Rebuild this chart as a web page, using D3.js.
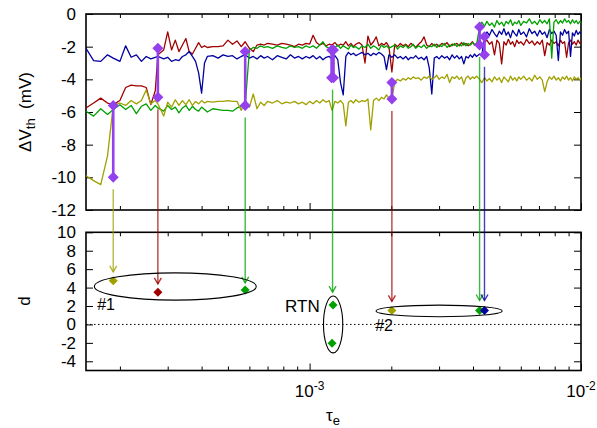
<!DOCTYPE html>
<html>
<head>
<meta charset="utf-8">
<script src="https://cdnjs.cloudflare.com/ajax/libs/d3/7.8.5/d3.min.js"></script>
<style>
body { margin: 0; background: #fff; }
text { font-family: "Liberation Sans", Arial, Helvetica, sans-serif; }
</style>
</head>
<body>
<div id="chart"></div>
<script>
// tau_e grid, in units of 1e-4 s
const tauE4 = [
  1.5,1.6,1.7,1.8,1.89,2.0,2.1,2.2,2.3,2.4,2.5,2.6,2.7,2.76,2.9,3.0,3.1,3.2,3.3,3.4,3.5,3.6,3.7,3.8,3.9,4.0,4.1,4.2,4.4,4.6,4.8,5.0,5.2,5.4,5.6,5.79,6.0,6.2,6.4,6.6,6.8,7.0,7.3,7.6,7.9,8.2,8.5,8.8,9.1,9.4,9.7,
  10.0,10.3,10.6,10.9,11.2,11.5,11.8,12.1,12.4,12.7,13.0,13.3,13.6,13.9,14.2,14.5,14.8,15.2,15.6,16.0,16.4,16.8,17.2,17.6,18.0,18.4,18.8,19.2,19.6,20.1,20.6,21.1,21.6,22.1,22.6,23.1,23.6,24.1,24.6,25.2,25.8,26.4,27.0,27.6,28.2,28.8,29.4,30.0,30.7,31.4,32.1,32.8,33.5,34.2,34.9,35.6,36.3,37.0,37.7,38.4,39.1,39.8,40.5,41.2,
  42.3,43.1,44.1,45,46,47,48,49,50,51,52,53,54,55,56,57,58,59,60,61.5,63,64.5,66,67.5,69,70.5,72,73.5,75,76.5,78,79.5,81,82.5,84,85.5,87,88.5,90,91.5,93,94.5,96,97.5,99,100
];
const tau = tauE4.map(v => v * 1e-4);

// delta Vth (mV) of the four devices
const red = [
  -5.75,-5.45,-5.15,-5.45,-5.55,-5.3,-4.5,-4.35,-4.4,-4.4,-4.5,-5.55,-4.7,-2.5,-2.2,-1.1,-2.2,-1.6,-2.3,-1.9,-1.5,-2.3,-2.45,-2.1,-1.75,-2.05,-1.95,-2.05,-2.0,-2.0,-1.95,-1.6,-1.85,-1.65,-2.0,-1.7,-2.1,-2.3,-1.9,-1.85,-1.9,-1.8,-1.85,-1.9,-1.8,-1.85,-1.9,-2.0,-1.85,-1.9,-1.8,
  -1.85,-1.3,-1.75,-1.9,-1.8,-1.95,-1.85,-1.9,-1.75,-1.95,-1.85,-1.9,-1.7,-1.95,-1.8,-2.0,-1.85,-1.75,-1.9,-3.0,-1.35,-1.9,-1.7,-1.4,-1.95,-1.8,-1.9,-1.75,-2.0,-3.55,-1.85,-2.0,-1.8,-1.95,-1.85,-2.0,-1.8,-1.9,-2.05,-1.85,-1.7,-1.4,-1.9,-2.0,-1.8,-1.95,-1.85,-2.0,-1.8,-1.9,-1.75,-2.0,-1.85,-1.9,-1.8,-1.95,-1.75,-1.9,-1.8,-1.95,-1.85,-1.7,-1.9,-1.8,
  -1.6,-1.95,-1.75,-1.6,-1.85,-1.7,-2.5,-1.6,-1.8,-3.05,-1.7,-1.9,-1.55,-1.85,-1.7,-2.0,-1.6,-1.8,-1.7,-1.9,-1.55,-1.8,-1.65,-1.9,-1.7,-1.85,-1.6,-2.55,-1.75,-1.9,-1.6,-1.8,-1.7,-1.95,-1.6,-1.8,-1.7,-2.65,-1.75,-1.6,-1.85,-1.7,-1.9,-1.6,-1.8,-1.75
];
const blue = [
  -2.1,-2.85,-2.9,-2.5,-2.7,-2.9,-1.95,-2.65,-2.5,-2.9,-2.6,-2.75,-2.65,-2.6,-2.75,-2.65,-2.9,-2.8,-2.85,-2.6,-2.5,-2.3,-2.6,-2.9,-3.6,-4.85,-3.0,-2.6,-2.55,-2.7,-2.5,-2.6,-2.55,-2.75,-2.6,-2.5,-2.7,-2.6,-2.75,-2.55,-2.7,-2.6,-2.8,-2.55,-2.65,-2.75,-2.5,-2.7,-2.6,-2.75,-2.6,
  -2.7,-2.55,-2.75,-2.6,-2.8,-2.65,-2.6,-2.75,-2.55,-2.8,-4.2,-4.95,-2.6,-2.35,-2.5,-2.4,-2.55,-2.45,-2.35,-2.5,-2.4,-2.55,-2.4,-2.5,-2.35,-2.45,-2.6,-3.4,-2.5,-2.65,-2.5,-2.7,-2.6,-2.75,-2.6,-2.8,-2.65,-2.7,-2.55,-2.75,-2.65,-2.8,-2.6,-3.3,-4.9,-2.7,-2.6,-2.75,-2.55,-2.7,-2.6,-2.8,-2.5,-2.7,-2.55,-2.75,-2.6,-3.05,-2.6,-2.7,-2.5,-2.65,-2.45,-2.6,
  -2.45,-2.55,-1.4,-1.1,-1.3,-0.95,-1.2,-1.4,-1.05,-1.25,-0.9,-1.3,-1.1,-1.45,-1.0,-1.2,-1.35,-0.95,-1.25,-1.1,-1.4,-0.9,-1.2,-1.05,-1.35,-1.0,-1.25,-1.1,-1.45,-0.95,-1.2,-1.05,-1.3,-2.85,-1.1,-1.3,-0.95,-1.2,-1.05,-2.6,-1.15,-1.35,-1.0,-1.25,-1.1,-1.2
];
const green = [
  -5.95,-6.25,-5.8,-6.15,-5.85,-5.55,-5.85,-5.6,-6.1,-5.65,-5.5,-5.9,-5.6,-5.75,-5.95,-5.6,-5.85,-5.7,-6.05,-5.75,-5.6,-5.9,-5.65,-5.85,-5.95,-5.7,-5.85,-6.0,-5.8,-5.85,-5.9,-5.9,-5.95,-5.75,-5.65,-5.6,-2.2,-2.05,-2.1,-1.95,-2.05,-2.0,-2.1,-1.95,-2.05,-2.1,-1.95,-2.05,-2.0,-2.1,-1.95,
  -2.05,-1.95,-2.1,-1.9,-1.7,-2.0,-2.1,-2.2,-2.05,-1.9,-2.1,-1.95,-2.05,-2.15,-1.9,-2.05,-2.0,-2.15,-1.95,-2.05,-1.85,-2.1,-1.95,-2.05,-2.2,-1.9,-2.05,-1.95,-2.1,-2.0,-1.9,-2.15,-1.95,-2.05,-1.9,-2.1,-2.0,-1.85,-2.1,-1.95,-2.05,-1.9,-2.1,-1.95,-2.0,-1.85,-2.05,-1.9,-2.0,-1.8,-2.05,-1.9,-1.95,-1.8,-2.0,-1.85,-1.95,-1.75,-1.95,-1.8,-1.9,-1.75,-1.85,-1.9,
  -0.8,-0.5,-0.75,-0.45,-0.7,-0.55,-0.8,-0.4,-0.65,-0.5,-0.75,-0.45,-0.6,-0.35,-0.7,-0.5,-0.6,-0.4,-0.7,-0.45,-0.55,-0.3,-0.6,-0.45,-0.65,-0.35,-0.55,-0.4,-0.6,-0.3,-2.7,-0.5,-0.35,-0.6,-0.4,-0.55,-0.3,-0.5,-0.4,-0.6,-0.35,-0.55,-0.4,-0.6,-0.45,-0.5
];
const olive = [
  -9.9,-10.2,-10.45,-8.7,-5.6,-5.45,-5.6,-5.3,-5.5,-5.3,-4.65,-5.5,-5.3,-5.5,-6.25,-5.4,-5.7,-5.25,-5.6,-5.3,-5.55,-5.25,-5.6,-5.35,-5.5,-5.3,-5.45,-5.35,-5.4,-5.35,-5.35,-5.3,-5.35,-5.35,-5.9,-5.3,-5.7,-4.9,-5.8,-5.4,-5.6,-5.35,-5.45,-5.3,-5.5,-5.4,-5.45,-5.35,-5.5,-5.4,-5.55,
  -5.35,-5.5,-5.3,-5.45,-5.25,-5.4,-5.3,-5.9,-5.35,-5.45,-5.3,-5.5,-6.85,-5.4,-5.3,-5.45,-5.25,-5.4,-5.3,-5.35,-5.2,-7.1,-5.3,-5.15,-5.3,-5.1,-5.2,-4.95,-5.15,-5.2,-4.15,-4.0,-4.1,-3.95,-4.05,-3.9,-4.0,-3.85,-3.95,-3.9,-4.05,-3.85,-3.95,-3.8,-4.0,-3.9,-3.75,-4.0,-3.85,-3.95,-3.7,-4.2,-3.85,-3.95,-3.8,-4.0,-3.85,-4.3,-3.9,-3.8,-4.0,-3.85,-3.95,-3.8,
  -4.0,-4.2,-3.9,-4.1,-3.95,-4.15,-3.85,-4.05,-3.9,-4.2,-3.85,-4.0,-4.15,-3.8,-4.05,-3.9,-4.1,-3.85,-4.0,-3.8,-4.05,-3.9,-4.1,-3.75,-4.0,-3.85,-4.05,-4.75,-4.15,-3.85,-4.0,-3.8,-4.05,-3.9,-4.1,-3.85,-4.0,-3.8,-4.05,-3.9,-4.1,-3.85,-4.0,-3.9,-4.05,-3.9
];

// purple jump markers (upper / lower level, mV)
const jumpTau  = [1.89e-4, 2.76e-4, 5.79e-4, 1.205e-3, 1.225e-3, 2.01e-3, 4.23e-3, 4.41e-3];
const jumpHigh = [-5.6, -2.1, -2.3, -2.2, -2.2, -4.2, -0.8, -1.4];
const jumpLow  = [-10.0, -5.1, -5.6, -3.9, -3.9, -5.2, -1.9, -2.5];

// arrows from the jumps down to the d panel
const arrowTau   = [1.89e-4, 2.76e-4, 5.79e-4, 1.215e-3, 2.01e-3, 4.23e-3, 4.41e-3];
const arrowFrom  = [-10.0, -5.1, -5.6, -3.9, -5.2, -1.9, -2.5];
const arrowTipD  = [5.7, 4.4, 4.5, 3.5, 2.5, 2.6, 2.6];
const arrowColor = ["olive", "red", "green", "green", "red", "green", "blue"];

// d values
const markTau   = [1.89e-4, 2.76e-4, 5.79e-4, 1.22e-3, 1.21e-3, 2.01e-3, 4.23e-3, 4.41e-3];
const markD     = [4.75, 3.5, 3.75, 2.1, -2.05, 1.5, 1.5, 1.5];
const markColor = ["olive", "red", "green", "green", "green", "olive", "green", "blue"];

// groups circled in the d panel
const groupName = ["#1", "RTN", "#2"];
const groupTau0 = [1.61e-4, 1.125e-3, 1.758e-3];
const groupTau1 = [6.36e-4, 1.325e-3, 5.12e-3];
const groupD0   = [2.64, -3.09, 0.83];
const groupD1   = [5.6, 3.08, 2.1];
const labelTau  = [1.65e-4, 1.09e-3, 1.745e-3];
const labelD    = [1.55, 1.39, -0.7];

const topTicks = [0, -2, -4, -6, -8, -10, -12];
const botTicks = [10, 8, 6, 4, 2, 0, -2, -4];
const xMajor = [1e-3, 1e-2];
const xMinor = [2e-4, 3e-4, 4e-4, 5e-4, 6e-4, 7e-4, 8e-4, 9e-4, 2e-3, 3e-3, 4e-3, 5e-3, 6e-3, 7e-3, 8e-3, 9e-3];

const colors = { red: "#a00000", blue: "#0000a0", green: "#00a000", olive: "#a0a000" };
const purple = "#9440ed";

const w = 597, h = 428;
const svg = d3.select("#chart").append("svg")
    .attr("width", w)
    .attr("height", h);

const x = d3.scaleLog().domain([1.5e-4, 1e-2]).range([86, 581]);
const yTop = d3.scaleLinear().domain([-12, 0]).range([210, 14]);
const yBot = d3.scaleLinear().domain([-5, 10]).range([370.5, 232.3]);

svg.append("clipPath").attr("id", "clipTop")
  .append("rect")
    .attr("x", 86).attr("y", 14)
    .attr("width", 495).attr("height", 196);

function panel(y, ticks, labelX) {
    const [b, t] = y.range();
    const g = svg.append("g");
    const axes = [
        [d3.axisBottom(x).tickValues(xMinor).tickSize(-4), b],
        [d3.axisBottom(x).tickValues(xMajor).tickSize(-7), b],
        [d3.axisTop(x).tickValues(xMinor).tickSize(-4), t],
        [d3.axisTop(x).tickValues(xMajor).tickSize(-7), t]
    ];
    axes.forEach(function (a) {
        g.append("g").attr("transform", "translate(0," + a[1] + ")")
            .call(a[0].tickFormat(""))
            .call(s => s.select(".domain").remove());
    });
    g.append("g").attr("transform", "translate(86,0)")
        .call(d3.axisLeft(y).tickValues(ticks).tickSize(-7).tickPadding(10).tickFormat(d => String(d)))
        .call(s => s.select(".domain").remove())
        .attr("font-size", 17)
        .attr("font-family", null);
    g.append("g").attr("transform", "translate(581,0)")
        .call(d3.axisRight(y).tickValues(ticks).tickSize(-7).tickFormat(""))
        .call(s => s.select(".domain").remove());
    g.selectAll(".tick line").attr("stroke", "#000").attr("stroke-width", 1);
    g.selectAll(".tick text").attr("fill", "#000");
    g.append("rect")
        .attr("x", 86).attr("y", t)
        .attr("width", 495).attr("height", b - t)
        .attr("fill", "none").attr("stroke", "#000").attr("stroke-width", 1.6);

    if (labelX) {
        xMajor.forEach(function (v) {
            const txt = g.append("text")
                .attr("x", x(v)).attr("y", 396.5)
                .attr("text-anchor", "middle")
                .attr("font-size", 17);
            txt.append("tspan").text("10");
            txt.append("tspan").attr("dy", -7).attr("font-size", 12).text("-" + Math.round(-Math.log10(v)));
        });
    }
}

panel(yTop, topTicks, false);
panel(yBot, botTicks, true);

// time series
const line = d3.line()
    .defined(d => d[1] !== undefined)
    .x(d => x(d[0]))
    .y(d => yTop(d[1]));

[["red", red], ["blue", blue], ["green", green], ["olive", olive]].forEach(function (s) {
    svg.append("path")
        .datum(tau.map((t, i) => [t, s[1][i]]))
        .attr("clip-path", "url(#clipTop)")
        .attr("fill", "none")
        .attr("stroke", colors[s[0]])
        .attr("stroke-width", 1.3)
        .attr("stroke-linejoin", "round")
        .attr("d", line);
});

// zero line in d panel
svg.append("line")
    .attr("x1", 86).attr("x2", 581)
    .attr("y1", yBot(0)).attr("y2", yBot(0))
    .attr("stroke", "#000").attr("stroke-width", 1)
    .attr("stroke-dasharray", "1.5,2.5");

// arrows
arrowTau.forEach(function (t, i) {
    const ax = x(t), y0 = yTop(arrowFrom[i]) + 12, y1 = yBot(arrowTipD[i]);
    const c = colors[arrowColor[i]];
    svg.append("line")
        .attr("x1", ax).attr("x2", ax)
        .attr("y1", y0).attr("y2", y1)
        .attr("stroke", c).attr("stroke-opacity", 0.75).attr("stroke-width", 1.4);
    svg.append("path")
        .attr("d", "M" + (ax - 3.5) + "," + (y1 - 6) + "L" + ax + "," + y1 + "L" + (ax + 3.5) + "," + (y1 - 6))
        .attr("fill", "none")
        .attr("stroke", c).attr("stroke-opacity", 0.8).attr("stroke-width", 1.4);
});

// purple jumps
function diamond(r) {
    return "M0," + (-r) + "L" + r + ",0L0," + r + "L" + (-r) + ",0Z";
}
jumpTau.forEach(function (t, i) {
    const jx = x(t);
    svg.append("line")
        .attr("x1", jx).attr("x2", jx)
        .attr("y1", yTop(jumpHigh[i])).attr("y2", yTop(jumpLow[i]))
        .attr("stroke", purple).attr("stroke-width", 2.6);
    [jumpHigh[i], jumpLow[i]].forEach(function (v) {
        svg.append("path")
            .attr("transform", "translate(" + jx + "," + yTop(v) + ")")
            .attr("d", diamond(5.5))
            .attr("fill", purple);
    });
});

// d markers
markTau.forEach(function (t, i) {
    svg.append("path")
        .attr("transform", "translate(" + x(t) + "," + yBot(markD[i]) + ")")
        .attr("d", diamond(4.5))
        .attr("fill", colors[markColor[i]]);
});

// group ellipses and labels
groupName.forEach(function (name, i) {
    const x0 = x(groupTau0[i]), x1 = x(groupTau1[i]);
    const y0 = yBot(groupD0[i]), y1 = yBot(groupD1[i]);
    svg.append("ellipse")
        .attr("cx", (x0 + x1) / 2).attr("cy", (y0 + y1) / 2)
        .attr("rx", (x1 - x0) / 2).attr("ry", (y0 - y1) / 2)
        .attr("fill", "none").attr("stroke", "#000").attr("stroke-width", 1.1);
    svg.append("text")
        .attr("x", x(labelTau[i])).attr("y", yBot(labelD[i]))
        .attr("text-anchor", name === "RTN" ? "end" : "start")
        .attr("font-size", name === "RTN" ? 17 : 16)
        .text(name);
});

// axis titles
const yt = svg.append("text")
    .attr("transform", "translate(31,112) rotate(-90)")
    .attr("text-anchor", "middle")
    .attr("font-size", 17);
yt.append("tspan").text("\u0394V");
yt.append("tspan").attr("dy", 4).attr("font-size", 13).text("th");
yt.append("tspan").attr("dy", -4).text("\u00a0\u00a0(mV)");

svg.append("text")
    .attr("transform", "translate(30,301) rotate(-90)")
    .attr("text-anchor", "middle")
    .attr("font-size", 17)
    .text("d");

const xt = svg.append("text")
    .attr("x", 333).attr("y", 421)
    .attr("text-anchor", "middle")
    .attr("font-size", 17);
xt.append("tspan").text("\u03c4");
xt.append("tspan").attr("dy", 4).attr("font-size", 13).text("e");
</script>
</body>
</html>
